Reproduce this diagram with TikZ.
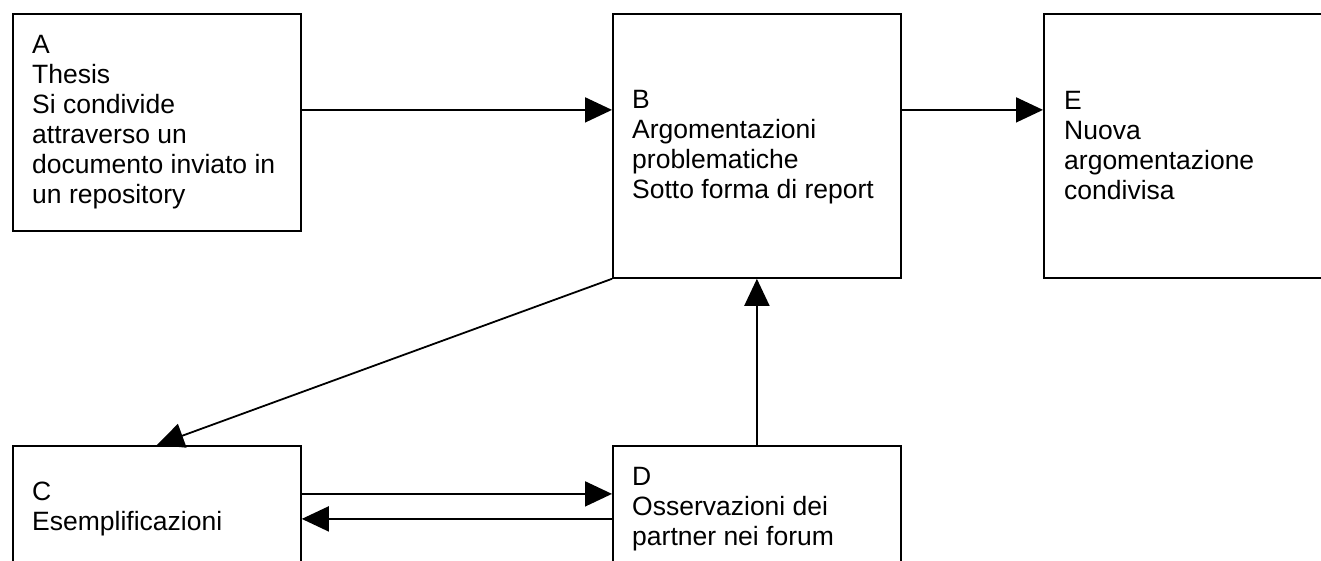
\documentclass[tikz,border=0pt]{standalone}
\usepackage{fontspec}
\setmainfont{Liberation Sans}
\usetikzlibrary{arrows.meta}
\begin{document}
\begin{tikzpicture}[x=1pt,y=-1pt,
  box/.style={draw=black,line width=1.8pt,rectangle,inner sep=0pt,anchor=north west},
  txt/.style={anchor=north west,inner sep=0pt,align=left,font=\fontsize{26.5}{30}\selectfont},
  arr/.style={line width=1.8pt,-{Triangle[length=27pt,width=25pt]}}]
\useasboundingbox (0,0) rectangle (1321,560);
\clip (0,0) rectangle (1321,560);
\fill[white] (0,0) rectangle (1321,560);
% boxes
\node[box,minimum width=288pt,minimum height=217pt] (A) at (12,13) {};
\node[box,minimum width=288pt,minimum height=264pt] (B) at (612,13) {};
\node[box,minimum width=288pt,minimum height=264pt] (E) at (1043,13) {};
\node[box,minimum width=288pt,minimum height=155pt] (C) at (12,445) {};
\node[box,minimum width=288pt,minimum height=155pt] (D) at (612,445) {};
% texts
\node[txt] (At) at (32,33) {\rule{0pt}{20pt}A\\Thesis\\Si condivide\\attraverso un\\documento inviato in\\un repository};
\node[txt] (Bt) at (632,88) {\rule{0pt}{20pt}B\\Argomentazioni\\problematiche\\Sotto forma di report};
\node[txt] (Et) at (1064,89) {\rule{0pt}{20pt}E\\Nuova\\argomentazione\\condivisa};
\node[txt] (Ct) at (32,480) {\rule{0pt}{20pt}C\\Esemplificazioni};
\node[txt] (Dt) at (632,465) {\rule{0pt}{20pt}D\\Osservazioni dei\\partner nei forum};
% connectors
\coordinate (ab) at ([yshift=12.5pt]A.east);
\draw[arr] (ab) -- (ab -| B.west);
\coordinate (be) at ([yshift=36pt]B.east);
\draw[arr] (be) -- (be -| E.west);
\draw[arr] (B.south west) -- (C.north);
\draw[arr] (D.north) -- (B.south);
\coordinate (cd) at ([yshift=29.5pt]C.east);
\draw[arr] (cd) -- (cd -| D.west);
\coordinate (dc) at ([yshift=4.5pt]D.west);
\draw[arr] (dc) -- (dc -| C.east);
\end{tikzpicture}
\end{document}
